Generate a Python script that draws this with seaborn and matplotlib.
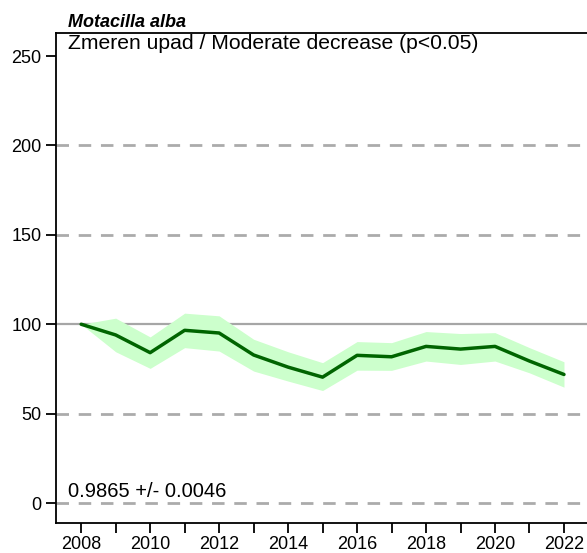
import numpy as np
import pandas as pd
import matplotlib
matplotlib.use("Agg")
import matplotlib.pyplot as plt
import seaborn as sns

# data
years = list(range(2008, 2023))
index = [100, 94.0, 84.1, 96.6, 95.1, 82.8, 76.0, 70.4, 82.6, 81.8, 87.6, 86.1, 87.6, 79.4, 71.9]
upper = [100, 103.4, 92.9, 106.2, 104.7, 91.6, 84.6, 78.5, 90.3, 89.7, 95.9, 94.8, 95.3, 86.9, 79.0]
lower = [100, 84.6, 75.3, 86.9, 85.0, 73.8, 68.2, 62.9, 74.3, 74.2, 79.4, 77.5, 79.4, 72.8, 64.8]
dashed_levels = [0, 50, 150, 200]
species = "Motacilla alba"
trend_text = "Zmeren upad / Moderate decrease (p<0.05)"
slope_text = "0.9865 +/- 0.0046"

df = pd.DataFrame({"year": years, "index": index, "upper": upper, "lower": lower})

sns.set_style("ticks")
plt.rcParams['font.family'] = ['Liberation Sans', 'DejaVu Sans']
plt.rcParams['text.color'] = 'black'

fig = plt.figure(figsize=(5.87, 5.53), dpi=100)
ax = fig.add_axes([0.0954, 0.0542, 0.93, 0.8861])

for lv in dashed_levels:
    ax.axhline(lv, color='#ababab', lw=2, ls=(0, (4.5, 3.5)), zorder=1)
ax.axhline(100, color='#a6a6a6', lw=1.6, zorder=1)

ax.fill_between(df['year'], df['lower'], df['upper'], color='#ccffcc', lw=0, zorder=2)
sns.lineplot(data=df, x='year', y='index', color='#006400', lw=2.5, ax=ax, zorder=3)

ax.set_xlim(2007.27, 2023.1)
ax.set_ylim(-11.2, 262.9)
ax.set_xticks(years)
ax.set_xticklabels([str(y) if y % 2 == 0 else '' for y in years])
ax.set_yticks([0, 50, 100, 150, 200, 250])
ax.tick_params(axis='both', direction='out', length=7, width=1.3, labelsize=13,
               colors='black', labelcolor='black')
ax.tick_params(axis='x', pad=2)
ax.set_xlabel('')
ax.set_ylabel('')
ax.spines['right'].set_visible(False)
for s in ['left', 'bottom', 'top']:
    ax.spines[s].set_linewidth(1.3)
    ax.spines[s].set_color('black')

ax.text(0.022, 1.005, species, transform=ax.transAxes, fontsize=13, fontweight='bold',
        fontstyle='italic', ha='left', va='bottom', color='black')
ax.text(0.022, 0.997, trend_text, transform=ax.transAxes, fontsize=15.2, ha='left', va='top',
        color='black')
ax.text(0.022, 0.045, slope_text, transform=ax.transAxes, fontsize=14.5, ha='left', va='bottom',
        color='black')

fig.savefig('out.png', dpi=100)
